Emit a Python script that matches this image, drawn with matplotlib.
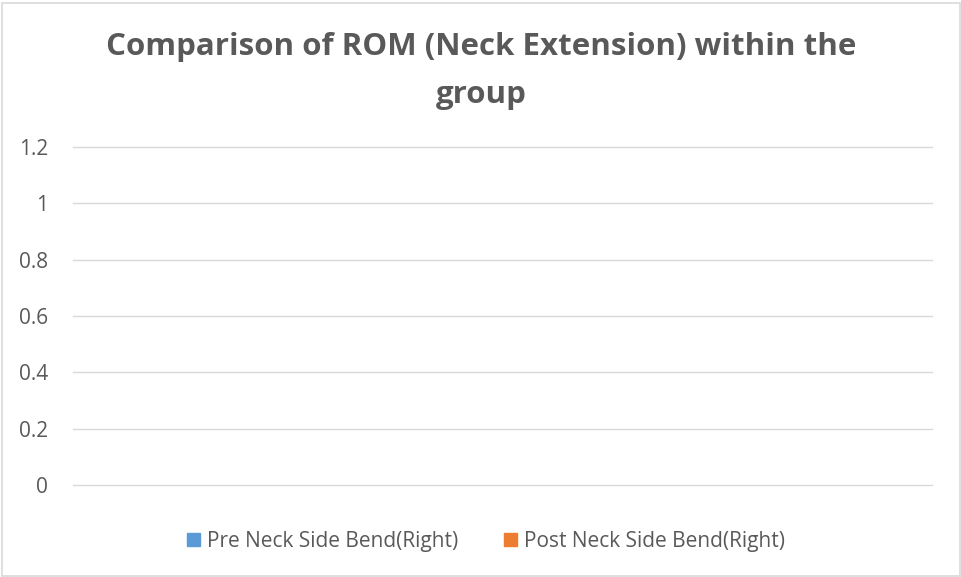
import matplotlib.pyplot as plt
from matplotlib.patches import Patch, Rectangle

# chart data: the source chart has no plotted values
categories = []
pre_values = []
post_values = []
series_names = ['Pre Neck Side Bend(Right)', 'Post Neck Side Bend(Right)']
series_colors = ['#5b9bd5', '#ed7d31']
yticks = [0, 0.2, 0.4, 0.6, 0.8, 1.0, 1.2]
ytick_labels = ['0', '0.2', '0.4', '0.6', '0.8', '1', '1.2']

plt.rcParams['font.family'] = ['Open Sans', 'DejaVu Sans']
text_color = '#595959'

fig = plt.figure(figsize=(9.62, 5.77), dpi=100)
ax = fig.add_axes([73 / 962, 1 - 485 / 577, (932 - 73) / 962, (485 - 147) / 577])

x = list(range(len(categories)))
ax.bar([i - 0.2 for i in x], pre_values, width=0.4, color=series_colors[0])
ax.bar([i + 0.2 for i in x], post_values, width=0.4, color=series_colors[1])

ax.set_ylim(0, 1.2)
ax.set_xlim(0, 1)
ax.set_yticks(yticks)
ax.set_yticklabels(ytick_labels)
ax.set_xticks([])
ax.tick_params(axis='y', length=0, pad=18, labelsize=15, labelcolor=text_color)
ax.grid(axis='y', color='#d9d9d9', linewidth=1)
for gl in ax.get_ygridlines():
    gl.set_clip_on(False)
ax.set_axisbelow(True)
for s in ax.spines.values():
    s.set_visible(False)

fig.text(0.5, 1 - 47 / 577, 'Comparison of ROM (Neck Extension) within the',
         ha='center', va='center', fontsize=22.5, fontweight='bold', color=text_color)
fig.text(0.5, 1 - 95 / 577, 'group',
         ha='center', va='center', fontsize=22.5, fontweight='bold', color=text_color)

handles = [Patch(color=c, label=n) for c, n in zip(series_colors, series_names)]
fig.legend(handles=handles, loc='center', bbox_to_anchor=(486 / 962, 1 - 541 / 577), ncol=2,
           frameon=False, fontsize=15, labelcolor=text_color, handlelength=0.6,
           handleheight=0.6, handletextpad=0.35, columnspacing=2.2)

# outer chart border
fig.patches.append(Rectangle((2 / 962, 1 / 577), 958 / 962, 573 / 577, transform=fig.transFigure,
                             fill=False, edgecolor='#d9d9d9', linewidth=1.2))

fig.savefig('out.png', dpi=100)
